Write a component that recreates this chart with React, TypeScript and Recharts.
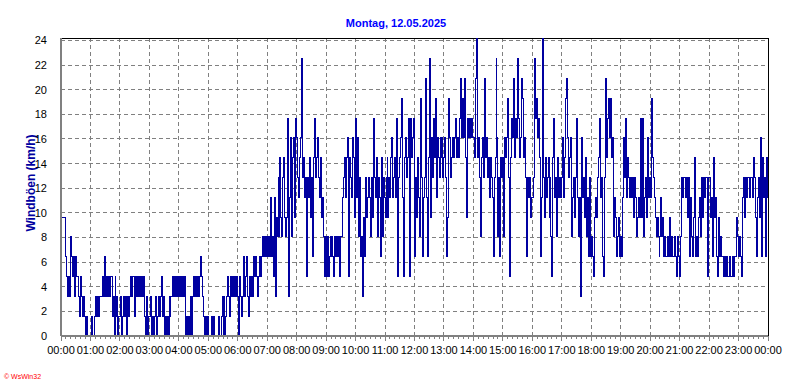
import React from "react";
import {
  ComposedChart,
  Line,
  XAxis,
  YAxis,
  CartesianGrid,
  ReferenceLine,
} from "recharts";

// gusts per hour, one char per 2-minute sample, in whole mph (hex digit)
const gustMph: string[] = [
  "566664323254342433213212101000",
  "010012121222324232323312031201",
  "120121202123233132323232310201",
  "120101201212312010102122323232",
  "323232301010202323232343210101",
  "000101000010012020123213232323",
  "203212423421323243432343454545",
  "454745372658596589656b27a59a6b",
  "a879ae897838796849b89a87967535",
  "3534545435454535578979a3987a96",
  "b7a584526486787586b87958749587",
  "6896879a7897b389ac739a89b3b9ab",
  "486975c8478d749e6a8b9c7a98a9a8",
  "9a846ca89a9ab9a9bdacad96bababa",
  "a9df9a859a8d9a897987489ea58498",
  "95a9ac839bad9baeb9adc9a8487867",
  "78ebcab947f86978968539b7859787",
  "8a79cda89a57868b7572a786957484",
  "54367689b784358d9bcac9a5764564",
  "547a8b79878786875676b6b5786a78",
  "7c9876565457564544546454454354",
  "358788786847546945467586878838",
  "867459674364544343433433434465",
  "454378687887887986478 6a4978497".replace(" ", ""),
];
const lastMph = 7;
const KMH_PER_MPH = 1.609;

const yTicks = [0, 2, 4, 6, 8, 10, 12, 14, 16, 18, 20, 22, 24];
const hourLabels = [
  "00:00", "01:00", "02:00", "03:00", "04:00", "05:00", "06:00", "07:00",
  "08:00", "09:00", "10:00", "11:00", "12:00", "13:00", "14:00", "15:00",
  "16:00", "17:00", "18:00", "19:00", "20:00", "21:00", "22:00", "23:00",
  "00:00",
];

const data: { t: number; v: number }[] = [];
gustMph.forEach((row, h) => {
  row.split("").forEach((c, k) => {
    data.push({ t: h + k / row.length, v: parseInt(c, 16) * KMH_PER_MPH });
  });
});
data.push({ t: 24, v: lastMph * KMH_PER_MPH });

// axis ticks every 10 minutes, labels only on full hours
const xTicks = Array.from({ length: 145 }, (_, i) => i / 6);
const hourLines = Array.from({ length: 23 }, (_, i) => i + 1);

const FONT = "'Liberation Sans', Arial, sans-serif";

const HourTick = (props: any) => {
  const { x, y, payload } = props;
  const v = payload.value as number;
  const h = Math.round(v * 6) / 6;
  const major = Math.abs(h - Math.round(h)) < 1e-6;
  return (
    <g>
      <line x1={x} x2={x} y1={y} y2={y + (major ? 5 : 3)} stroke="#808080" />
      {major && (
        <text
          x={x}
          y={y + 18}
          textAnchor="middle"
          fontSize={11}
          fontFamily={FONT}
          fill="#000"
        >
          {hourLabels[Math.round(h)]}
        </text>
      )}
    </g>
  );
};

export default function App() {
  return (
    <div
      style={{
        position: "fixed",
        left: 0,
        top: 0,
        width: 792,
        height: 387,
        background: "#fff",
        fontFamily: FONT,
      }}
    >
      <div
        style={{
          position: "absolute",
          left: 0,
          width: 792,
          top: 17,
          textAlign: "center",
          color: "#0000ff",
          fontWeight: "bold",
          fontSize: 11,
        }}
      >
        Montag, 12.05.2025
      </div>
      <div
        style={{
          position: "absolute",
          left: 31,
          top: 183,
          transform: "translate(-50%, -50%) rotate(-90deg)",
          whiteSpace: "nowrap",
          color: "#0000a0",
          fontWeight: "bold",
          fontSize: 12,
        }}
      >
        Windböen (km/h)
      </div>
      <div
        style={{
          position: "absolute",
          left: 4,
          top: 373,
          color: "#ff0000",
          fontSize: 7,
          whiteSpace: "nowrap",
        }}
      >
        © WsWin32
      </div>
      <ComposedChart
        width={792}
        height={387}
        data={data}
        margin={{ top: 38, right: 24, bottom: 21, left: 21 }}
        style={{ position: "absolute", left: 0, top: 0, shapeRendering: "crispEdges" }}
      >
        <CartesianGrid
          stroke="#808080"
          strokeDasharray="4 3"
          verticalValues={hourLines}
          horizontalValues={yTicks}
        />
        <XAxis
          type="number"
          dataKey="t"
          domain={[0, 24]}
          ticks={xTicks}
          interval={0}
          tickLine={false}
          tickSize={0}
          tickMargin={0}
          axisLine={{ stroke: "#808080", strokeWidth: 2 }}
          tick={<HourTick />}
          height={30}
        />
        <YAxis
          type="number"
          domain={[0, 24.2]}
          ticks={yTicks}
          interval={0}
          allowDataOverflow
          tickLine={false}
          tickMargin={8}
          axisLine={{ stroke: "#808080", strokeWidth: 2 }}
          tick={{ fill: "#000", fontSize: 11, fontFamily: FONT }}
          width={40}
        />
        <ReferenceLine y={24.2} stroke="#000" />
        <ReferenceLine x={24} stroke="#000" />
        <Line
          type="stepAfter"
          dataKey="v"
          stroke="#0000a0"
          strokeWidth={1}
          dot={false}
          isAnimationActive={false}
        />
      </ComposedChart>
    </div>
  );
}
